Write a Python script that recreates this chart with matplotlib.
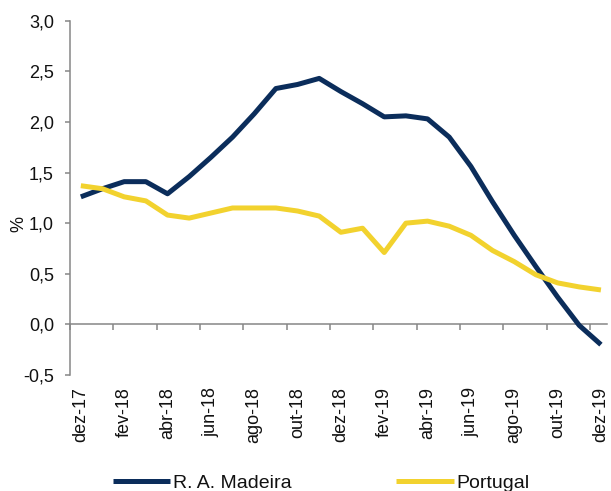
import matplotlib
matplotlib.use("Agg")
import matplotlib.pyplot as plt
import numpy as np

months = ["dez-17", "jan-18", "fev-18", "mar-18", "abr-18", "mai-18", "jun-18",
          "jul-18", "ago-18", "set-18", "out-18", "nov-18", "dez-18", "jan-19",
          "fev-19", "mar-19", "abr-19", "mai-19", "jun-19", "jul-19", "ago-19",
          "set-19", "out-19", "nov-19", "dez-19"]
madeira = [1.26, 1.34, 1.41, 1.41, 1.29, 1.46, 1.65, 1.85, 2.08, 2.33, 2.37,
           2.43, 2.30, 2.18, 2.05, 2.06, 2.03, 1.85, 1.56, 1.21, 0.88, 0.57,
           0.27, -0.01, -0.20]
portugal = [1.37, 1.34, 1.26, 1.22, 1.08, 1.05, 1.10, 1.15, 1.15, 1.15, 1.12,
            1.07, 0.91, 0.95, 0.71, 1.00, 1.02, 0.97, 0.88, 0.73, 0.62, 0.49,
            0.41, 0.37, 0.34]
yticks = [-0.5, 0.0, 0.5, 1.0, 1.5, 2.0, 2.5, 3.0]

plt.rcParams['font.family'] = ['Liberation Sans', 'DejaVu Sans']
NAVY = '#0B2D5B'
YELLOW = '#F2D22E'
GRAY = '#868686'
TXT = '#111111'
FS = 13

W, H = 611, 491
fig = plt.figure(figsize=(W / 100, H / 100), dpi=100)
ax = fig.add_axes([70 / W, 116 / H, (607 - 70) / W, (375 - 20.7) / H])

x = np.arange(len(months))
ax.plot(x, madeira, color=NAVY, lw=3.6, solid_capstyle='butt', label='R. A. Madeira')
ax.plot(x, portugal, color=YELLOW, lw=3.6, solid_capstyle='butt', label='Portugal')

ax.set_ylim(-0.5, 3.0)
ax.set_xlim(-0.5, 24.28)
ax.set_yticks(yticks)
ax.set_yticklabels([f"{v:.1f}".replace('.', ',') for v in yticks])
ax.tick_params(axis='y', direction='out', length=3.6, width=1.1, color=GRAY,
               labelsize=FS, pad=8.0, labelcolor=TXT)

ax.set_xticks(x[::2])
ax.set_xticklabels(months[::2], rotation=90, va='top', ha='center')
ax.tick_params(axis='x', length=0, labelsize=FS, pad=8.4, labelcolor=TXT)

for s in ['top', 'right', 'bottom']:
    ax.spines[s].set_visible(False)
ax.spines['left'].set_color(GRAY)
ax.spines['left'].set_linewidth(1.1)

# zero axis with category boundary ticks
sec = ax.secondary_xaxis(0.5 / 3.5)
sec.set_xticks(np.arange(-0.5, 24.6, 2))
sec.set_xticklabels([])
sec.tick_params(axis='x', direction='out', length=4, width=1.1, color=GRAY)
sec.spines['bottom'].set_color(GRAY)
sec.spines['bottom'].set_linewidth(1.1)

fig.text(19 / W, 1 - 223.5 / H, '%', rotation=90, ha='center', va='center',
         fontsize=FS, color=TXT)

fig.legend(loc='center left', bbox_to_anchor=(113 / W, 8 / H), ncol=2,
           frameon=False, borderpad=0, borderaxespad=0, handlelength=2.95,
           handletextpad=0.12, columnspacing=5.4, fontsize=14,
           labelcolor=TXT)

fig.savefig('out.png', dpi=100)
